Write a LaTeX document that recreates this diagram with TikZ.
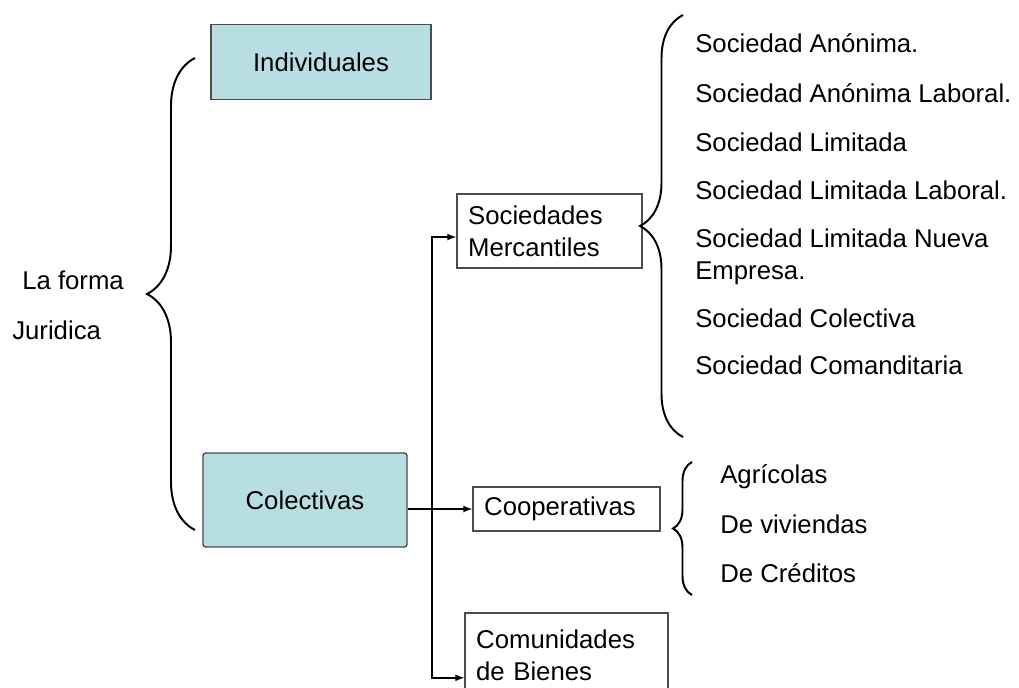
\documentclass[tikz,border=0pt]{standalone}
\usepackage{fontspec}
\setmainfont{Liberation Sans}
\usetikzlibrary{arrows,positioning,decorations.pathreplacing}
\definecolor{boxblue}{RGB}{183,222,226}

\begin{document}
\begin{tikzpicture}[x=0.025cm,y=-0.025cm,
 every node/.style={font=\fontsize{18.3}{23}\selectfont},
 bluebox/.style={draw=black!70,fill=boxblue,line width=1pt},
 whitebox/.style={draw=black!70,line width=1pt,inner xsep=0.28cm,align=left,text width=#1},
 item/.style={anchor=base west,inner sep=0pt,align=left},
 brace/.style={decorate,decoration={brace,amplitude=#1},line width=1.4pt},
 conn/.style={-latex,line width=1.2pt}] %[scale=0.025cm]
\useasboundingbox (0,0) rectangle (1019,688);
\node [item] (forma) at (22,290) {La forma};
\node [item] (jur) at (12,340) {Juridica};
\node [bluebox,minimum width=5.5cm,minimum height=1.875cm] (indiv) at (321,62) {Individuales};
\node [bluebox,minimum width=5.1cm,minimum height=2.35cm,rounded corners=2pt] (colec) at (305,500) {Colectivas};
\node [whitebox=4.065cm,minimum height=1.85cm] (soc) at (549.5,231) {Sociedades\\Mercantiles};
\node [whitebox=4.115cm,minimum height=1.1cm] (coop) at (566.5,509) {Cooperativas};
\node [whitebox=4.515cm,minimum height=2.1cm] (com) at (566.5,655) {Comunidades\\de Bienes};
\coordinate (split) at (432,509);
\draw [conn] (colec.east |- coop.west) -- (coop.west);
\draw [conn] (split) |- ([yshift=-0.15cm]soc.west);
\draw [conn] (split) |- ([yshift=-0.57cm]com.west);
\draw [brace=1.2cm] (195,530) -- (195,58);
\draw [brace=1.075cm] (683,437) -- (683,15);
\draw [brace=0.475cm] (692,595) -- (692,462);
\node [item] (sa) at (695,53) {Sociedad Anónima.};
\node [item] (sal) at (695,103) {Sociedad Anónima Laboral.};
\node [item] (sl) at (695,152) {Sociedad Limitada};
\node [item] (sll) at (695,200) {Sociedad Limitada Laboral.};
\node [item] (slne) at (695,280) {Sociedad Limitada Nueva\\Empresa.};
\node [item] (sc) at (695,328) {Sociedad Colectiva};
\node [item] (scom) at (695,375) {Sociedad Comanditaria};
\node [item] (agr) at (720,483) {Agrícolas};
\node [item] (viv) at (720,533) {De viviendas};
\node [item] (cred) at (720,582) {De Créditos};
\end{tikzpicture}
\end{document}
